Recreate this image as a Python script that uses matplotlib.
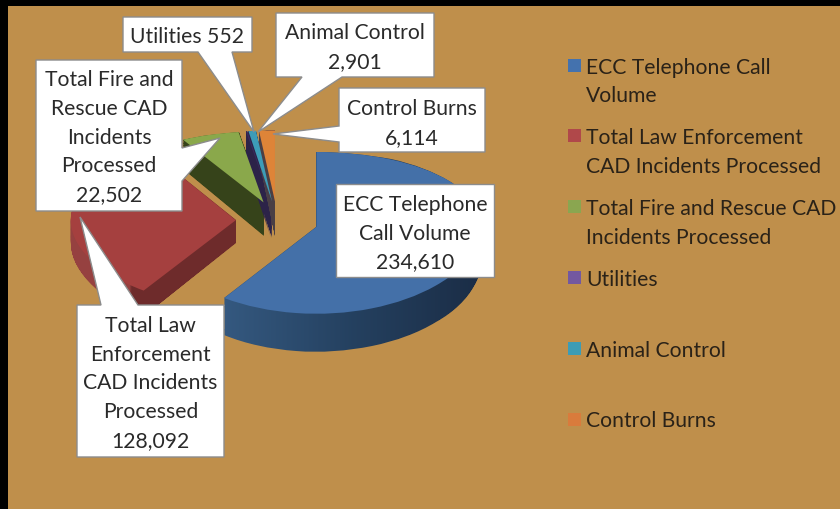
import numpy as np
import matplotlib
matplotlib.use('Agg')
import matplotlib.pyplot as plt
from matplotlib.colors import LinearSegmentedColormap
from matplotlib.patches import Polygon, Rectangle
from matplotlib.path import Path

plt.rcParams['font.family'] = ['Lato', 'DejaVu Sans']

# chart data
names = ['ECC Telephone Call\nVolume', 'Total Law Enforcement\nCAD Incidents Processed',
         'Total Fire and Rescue CAD\nIncidents Processed', 'Utilities', 'Animal Control', 'Control Burns']
values = [234610, 128092, 22502, 552, 2901, 6114]

# colours
top_colors = ['#4470A8', '#A5403F', '#8AA84B', '#3A2A5E', '#3D9CB8', '#DE8438']
key_colors = ['#4472AE', '#B0484A', '#8AA650', '#7358A0', '#3D9CB5', '#D97B3C']
side_stops = [
    [(0, '#34587F'), (0.5, '#24405F'), (1, '#1A2C45')],
    [(0, '#964140'), (0.36, '#964140'), (0.37, '#6E2B2B'), (1, '#6E2B2B')],
    [(0, '#36431A'), (1, '#36431A')],
    [(0, '#2C2348'), (1, '#2C2348')],
    [(0, '#2C2348'), (1, '#2C2348')],
    [(0, '#4A3F45'), (1, '#4A3F45')],
]
depths = [0.40, 0.28, 0.42, 0.46, 0.46, 0.44]

W, H = 840, 510
CX, CY = 277, 222   # pie centre in pixels
RX = 165            # pixels per x unit
TAN = '#BF8F4B'
FS = 15.2


# slight perspective: the front of the pie is bigger than the back
def persp(y):
    return 80 * y - 6 * y ** 2


def persp_inv(p):
    return (80 - np.sqrt(np.maximum(6400 - 24 * p, 0))) / 12


fig = plt.figure(figsize=(W / 100, H / 100), dpi=100, facecolor='black')

ax_bg = fig.add_axes([8 / W, 0, (W - 8) / W, (H - 7) / H])
ax_bg.set_facecolor(TAN)
ax_bg.set_xticks([])
ax_bg.set_yticks([])
for s in ax_bg.spines.values():
    s.set_visible(False)

ax = fig.add_axes([0, 0, 1, 1])
ax.patch.set_visible(False)
wedges, _ = ax.pie(values, explode=[0.25] * len(values), colors=top_colors, startangle=90,
                   counterclock=False, radius=1, wedgeprops={'linewidth': 0})
ax.set_aspect('auto')
ax.set_yscale('function', functions=(persp, persp_inv))
ax.set_xlim(-CX / RX, (W - CX) / RX)
ax.set_ylim(persp_inv(CY - H), persp_inv(CY))
ax.axis('off')

# sides of the slices: the wedge path swept downwards
for i, w in enumerate(wedges):
    w.set_zorder(10)
    p = w.get_path()
    swept = Path.make_compound_path(*[Path(p.vertices - [0, d], p.codes)
                                      for d in np.linspace(0, depths[i], 40)])
    xmin, xmax = p.vertices[:, 0].min(), p.vertices[:, 0].max()
    xs = np.linspace(xmin, xmax, 200)
    ys = np.array([p.vertices[:, 1].min() - depths[i] - 0.1, p.vertices[:, 1].max() + 0.1])
    grad = np.tile((xs[:-1] + xs[1:]) / 2, (1, 1))
    cm = LinearSegmentedColormap.from_list('side%d' % i, side_stops[i])
    mesh = ax.pcolormesh(xs, ys, grad, cmap=cm, vmin=xmin, vmax=xmax, zorder=1 + i * 0.1, shading='flat')
    mesh.set_clip_path(swept, transform=ax.transData)

# everything else is placed in pixels
ov = fig.add_axes([0, 0, 1, 1])
ov.set_xlim(0, W)
ov.set_ylim(H, 0)
ov.axis('off')


def callout(x0, y0, x1, y1, side, a, b, tip, lines, ty):
    # white box with a pointed tail on one of its sides
    if side == 'top':
        pts = [(x0, y0), (a, y0), tip, (b, y0), (x1, y0), (x1, y1), (x0, y1)]
    elif side == 'bottom':
        pts = [(x0, y0), (x1, y0), (x1, y1), (b, y1), tip, (a, y1), (x0, y1)]
    elif side == 'left':
        pts = [(x0, y0), (x1, y0), (x1, y1), (x0, y1), (x0, b), tip, (x0, a)]
    elif side == 'right':
        pts = [(x0, y0), (x1, y0), (x1, a), tip, (x1, b), (x1, y1), (x0, y1)]
    else:
        pts = [(x0, y0), (x1, y0), (x1, y1), (x0, y1)]
    ov.add_patch(Polygon(pts, closed=True, facecolor='white', edgecolor='#8C8C8C', linewidth=1))
    for line, y in zip(lines, ty):
        ov.text((x0 + x1) / 2, y + 1, line, ha='center', va='center', fontsize=FS, color='#2A2A2A')


callout(123, 18, 252, 53, 'bottom', 198, 232, (254, 133), ['Utilities 552'], [36])
callout(276, 14, 434, 78, 'bottom', 302, 342, (258, 133), ['Animal Control', '2,901'], [32, 61])
callout(339, 89, 485, 153, 'left', 127, 143, (273, 135), ['Control Burns', '6,114'], [108, 137])
callout(36, 61, 182, 212, 'right', 149, 182, (220, 139),
        ['Total Fire and', 'Rescue CAD', 'Incidents', 'Processed', '22,502'], [79, 108, 137, 165, 194])
callout(336, 185, 494, 278, None, 0, 0, None, ['ECC Telephone', 'Call Volume', '234,610'], [204, 233, 261])
callout(77, 306, 224, 458, 'top', 101, 138, (80, 218),
        ['Total Law', 'Enforcement', 'CAD Incidents', 'Processed', '128,092'], [325, 354, 382, 411, 440])

# legend
for i, name in enumerate(names):
    y = 66 + i * 70.8
    ov.add_patch(Rectangle((568, y - 6.5), 13, 13, facecolor=key_colors[i], edgecolor='none'))
    for j, line in enumerate(name.split('\n')):
        ov.text(586, y + 1.5 + j * 28.5, line, ha='left', va='center', fontsize=FS, color='#2A2218')

fig.savefig('out.png', dpi=100, facecolor=fig.get_facecolor())
